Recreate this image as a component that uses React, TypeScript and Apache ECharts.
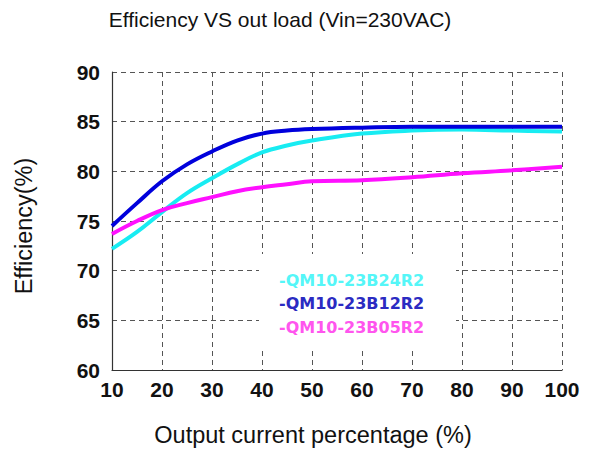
import React, { useEffect, useRef } from "react";
import * as echarts from "echarts";

const loadPct = [10, 15, 20, 25, 30, 35, 40, 45, 50, 60, 70, 80, 90, 100];
const eff24R2 = [72.2, 73.9, 75.9, 77.8, 79.3, 80.7, 81.9, 82.6, 83.1, 83.8, 84.1, 84.2, 84.1, 84.0];
const eff12R2 = [74.5, 76.8, 79.0, 80.7, 82.0, 83.1, 83.8, 84.1, 84.25, 84.4, 84.5, 84.5, 84.5, 84.5];
const eff05R2 = [73.7, 75.0, 76.1, 76.8, 77.4, 78.0, 78.4, 78.7, 79.0, 79.1, 79.4, 79.8, 80.1, 80.45];
const seriesNames = ["-QM10-23B24R2", "-QM10-23B12R2", "-QM10-23B05R2"];
const xTicks = [10, 20, 30, 40, 50, 60, 70, 80, 90, 100];
const yTicks = [60, 65, 70, 75, 80, 85, 90];

const lineColors = ["#18ecf2", "#0000dc", "#ff10ff"];
const legendColors = ["#55f6f8", "#2b2bc2", "#ff55ee"];

function pairs(v: number[]) {
  return loadPct.map((x, i) => [x, v[i]]);
}

export default function App() {
  const ref = useRef<HTMLDivElement>(null);
  useEffect(() => {
    if (!ref.current) return;
    const chart = echarts.init(ref.current, null, { renderer: "svg" });
    const sets = [eff24R2, eff12R2, eff05R2];
    chart.setOption({
      animation: false,
      backgroundColor: "#ffffff",
      grid: { left: 112, right: 32, top: 72, bottom: 81 },
      xAxis: {
        type: "value",
        min: xTicks[0],
        max: xTicks[xTicks.length - 1],
        interval: 10,
        axisLine: { show: true, lineStyle: { color: "#333", width: 1.2 } },
        axisTick: { show: false },
        axisLabel: {
          margin: 9,
          color: "#111",
          fontFamily: "Liberation Sans, Arial, sans-serif",
          fontWeight: "bold",
          fontSize: 21,
        },
        splitLine: { show: true, lineStyle: { color: "#555", type: [5, 4], width: 1 } },
      },
      yAxis: {
        type: "value",
        min: yTicks[0],
        max: yTicks[yTicks.length - 1],
        interval: 5,
        axisLine: { show: true, lineStyle: { color: "#333", width: 1.2 } },
        axisTick: { show: false },
        axisLabel: {
          margin: 12,
          color: "#111",
          fontFamily: "Liberation Sans, Arial, sans-serif",
          fontWeight: "bold",
          fontSize: 21,
        },
        splitLine: { show: true, lineStyle: { color: "#555", type: [5, 4], width: 1 } },
      },
      series: sets.map((s, i) => ({
        type: "line",
        name: seriesNames[i],
        data: pairs(s),
        smooth: 0.4,
        symbol: "none",
        lineStyle: { color: lineColors[i], width: 4 },
        z: i === 1 ? 4 : 3,
      })),
      graphic: [
        {
          type: "text",
          x: 280,
          y: 19,
          style: {
            text: "Efficiency VS out load (Vin=230VAC)",
            fontFamily: "Liberation Sans, Arial, sans-serif",
            fontSize: 21,
            fill: "#111",
            align: "center",
            verticalAlign: "middle",
          },
        },
        {
          type: "text",
          x: 313,
          y: 435,
          style: {
            text: "Output current percentage (%)",
            fontFamily: "Liberation Sans, Arial, sans-serif",
            fontSize: 23.5,
            fill: "#111",
            align: "center",
            verticalAlign: "middle",
          },
        },
        {
          type: "text",
          x: 24,
          y: 226,
          rotation: Math.PI / 2,
          style: {
            text: "Efficiency(%)",
            fontFamily: "Liberation Sans, Arial, sans-serif",
            fontSize: 23.5,
            fill: "#111",
            align: "center",
            verticalAlign: "middle",
          },
        },
        {
          type: "rect",
          shape: { x: 259, y: 254, width: 197, height: 95 },
          style: { fill: "#ffffff" },
          z: 10,
        },
        ...seriesNames.map((n, i) => ({
          type: "text",
          x: 279,
          y: [280, 303.5, 327][i],
          z: 11,
          style: {
            text: n,
            fontFamily: "DejaVu Sans, Verdana, sans-serif",
            fontWeight: "bold",
            fontSize: 16,
            fill: legendColors[i],
            align: "left",
            verticalAlign: "middle",
          },
        })),
      ],
    });
    return () => chart.dispose();
  }, []);
  return (
    <div
      ref={ref}
      style={{ position: "absolute", left: 0, top: 0, width: 594, height: 451 }}
    />
  );
}
